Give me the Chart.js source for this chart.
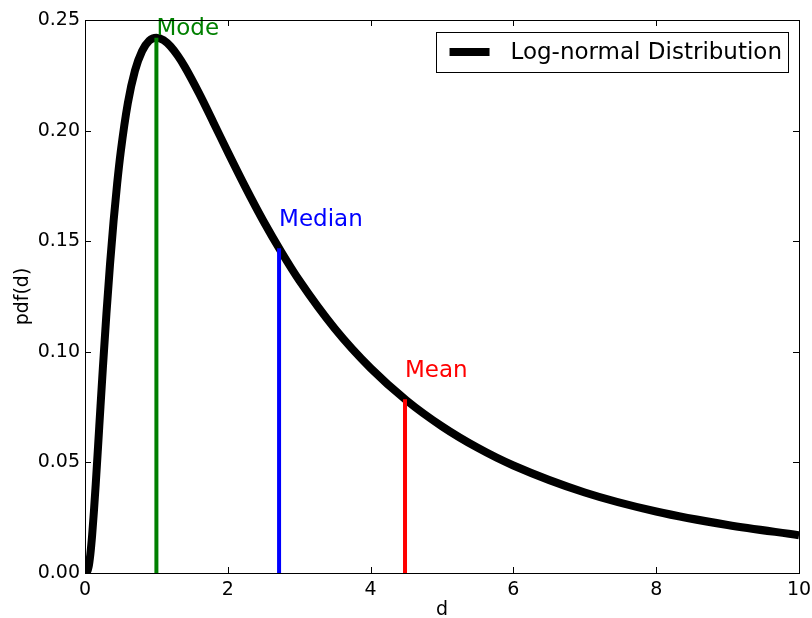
<!DOCTYPE html>
<html>
<head>
<meta charset="utf-8">
<script src="https://cdn.jsdelivr.net/npm/chart.js@4.4.1/dist/chart.umd.min.js"></script>
<style>
html,body{margin:0;padding:0;background:#fff;}
#wrap{width:812px;height:618px;position:relative;}
</style>
</head>
<body>
<div id="wrap"><canvas id="c" width="812" height="618"></canvas></div>
<script>
// Curve samples (x = d, y = pdf(d))
const curveX = [0, 0.02, 0.05, 0.075, 0.1, 0.125, 0.15, 0.2, 0.25, 0.3, 0.35, 0.4, 0.45, 0.5, 0.6, 0.7, 0.8, 0.9, 1.0, 1.1, 1.2, 1.3, 1.4, 1.6, 1.8, 2.0, 2.25, 2.5, 2.75, 3.0, 3.5, 4.0, 4.5, 5.0, 5.5, 6.0, 7.0, 8.0, 9.0, 10.0];
const curveY = [0, 0.0001, 0.0027, 0.0085, 0.0171, 0.0279, 0.0400, 0.0663, 0.0926, 0.1172, 0.1394, 0.1590, 0.1759, 0.1903, 0.2124, 0.2271, 0.2360, 0.2407, 0.2420, 0.2409, 0.2380, 0.2338, 0.2287, 0.2167, 0.2036, 0.1903, 0.1742, 0.1590, 0.1451, 0.1323, 0.1104, 0.0926, 0.0781, 0.0663, 0.0566, 0.0486, 0.0364, 0.0278, 0.0217, 0.0171];

// Markers
const markerNames = ["Mode", "Median", "Mean"];
const markerX = [1.0, 2.718, 4.482];
const markerTop = [0.2420, 0.1468, 0.0786];
const markerLabelY = [0.2432, 0.1569, 0.0886];
const markerColors = ["#008000", "#0000ff", "#ff0000"];

const xTicks = [0, 2, 4, 6, 8, 10];
const yTicks = [0, 0.05, 0.10, 0.15, 0.20, 0.25];
const legendLabel = "Log-normal Distribution";

const FONT = "'DejaVu Sans', 'Liberation Sans', sans-serif";

const datasets = [];
markerX.forEach((mx, i) => {
  datasets.push({
    label: markerNames[i],
    data: [{x: mx, y: 0}, {x: mx, y: markerTop[i]}],
    borderColor: markerColors[i],
    borderWidth: 4,
    pointRadius: 0,
    showLine: true,
    clip: 0,
    borderCapStyle: 'butt'
  });
});
datasets.push({
  label: legendLabel,
  data: curveX.map((x, i) => ({x: x, y: curveY[i]})),
  borderColor: '#000000',
  borderWidth: 8,
  pointRadius: 0,
  showLine: true,
  cubicInterpolationMode: 'monotone',
  clip: 0,
  borderJoinStyle: 'round',
  borderCapStyle: 'butt'
});

const framePlugin = {
  id: 'frame',
  afterDatasetsDraw(chart) {
    const ctx = chart.ctx;
    const a = chart.chartArea;
    const xs = chart.scales.x, ys = chart.scales.y;
    ctx.save();
    // marker labels
    ctx.font = "23px " + FONT;
    ctx.textAlign = 'left';
    ctx.textBaseline = 'alphabetic';
    markerX.forEach((mx, i) => {
      ctx.fillStyle = markerColors[i];
      ctx.fillText(markerNames[i], xs.getPixelForValue(mx), ys.getPixelForValue(markerLabelY[i]));
    });
    // frame
    ctx.strokeStyle = '#000';
    ctx.lineWidth = 1;
    ctx.strokeRect(Math.round(a.left) + 0.5, Math.round(a.top) + 0.5, Math.round(a.right - a.left), Math.round(a.bottom - a.top));
    // inward ticks on all sides
    const tl = 6;
    ctx.beginPath();
    xTicks.forEach(v => {
      const px = Math.round(xs.getPixelForValue(v)) + 0.5;
      ctx.moveTo(px, a.bottom); ctx.lineTo(px, a.bottom - tl);
      ctx.moveTo(px, a.top); ctx.lineTo(px, a.top + tl);
    });
    yTicks.forEach(v => {
      const py = Math.round(ys.getPixelForValue(v)) + 0.5;
      ctx.moveTo(a.left, py); ctx.lineTo(a.left + tl, py);
      ctx.moveTo(a.right, py); ctx.lineTo(a.right - tl, py);
    });
    ctx.stroke();
    // legend
    ctx.font = "23px " + FONT;
    const tw = ctx.measureText(legendLabel).width;
    const boxRight = a.right - 11;
    const boxTop = a.top + 12;
    const boxH = 40;
    const boxW = 14 + 40 + 21 + tw + 6;
    const boxLeft = boxRight - boxW;
    ctx.fillStyle = '#fff';
    ctx.fillRect(boxLeft, boxTop, boxW, boxH);
    ctx.strokeRect(Math.round(boxLeft) + 0.5, Math.round(boxTop) + 0.5, Math.round(boxW), boxH);
    const midY = boxTop + boxH / 2;
    ctx.beginPath();
    ctx.lineWidth = 8;
    ctx.moveTo(boxLeft + 14, midY); ctx.lineTo(boxLeft + 54, midY);
    ctx.stroke();
    ctx.fillStyle = '#000';
    ctx.textBaseline = 'middle';
    ctx.fillText(legendLabel, boxLeft + 75, midY + 1);
    ctx.restore();
  }
};

new Chart(document.getElementById('c'), {
  type: 'scatter',
  data: { datasets },
  options: {
    responsive: false,
    animation: false,
    layout: { padding: { left: 0, right: 13, top: 20, bottom: 0 } },
    plugins: { legend: { display: false }, tooltip: { enabled: false } },
    scales: {
      x: {
        type: 'linear', min: 0, max: 10,
        afterBuildTicks(s) { s.ticks = xTicks.map(v => ({value: v})); },
        afterFit(s) { s.height = 45; s.paddingLeft = 0; s.paddingRight = 0; },
        grid: { display: false, drawTicks: false },
        border: { display: false },
        ticks: { color: '#000', font: { family: FONT, size: 19 }, padding: 6, maxRotation: 0, callback: v => String(v) },
        title: { display: true, text: 'd', color: '#000', font: { family: FONT, size: 19 }, padding: { top: 0, bottom: -3 } }
      },
      y: {
        type: 'linear', min: 0, max: 0.25,
        afterBuildTicks(s) { s.ticks = yTicks.map(v => ({value: v})); },
        afterFit(s) { s.width = 85; s.paddingTop = 0; s.paddingBottom = 0; },
        grid: { display: false, drawTicks: false },
        border: { display: false },
        ticks: { color: '#000', font: { family: FONT, size: 19 }, padding: 5, callback: v => Number(v).toFixed(2) },
        title: { display: true, text: 'pdf(d)', color: '#000', font: { family: FONT, size: 19 }, padding: { top: 12, bottom: 0 } }
      }
    }
  },
  plugins: [framePlugin]
});
</script>
</body>
</html>
